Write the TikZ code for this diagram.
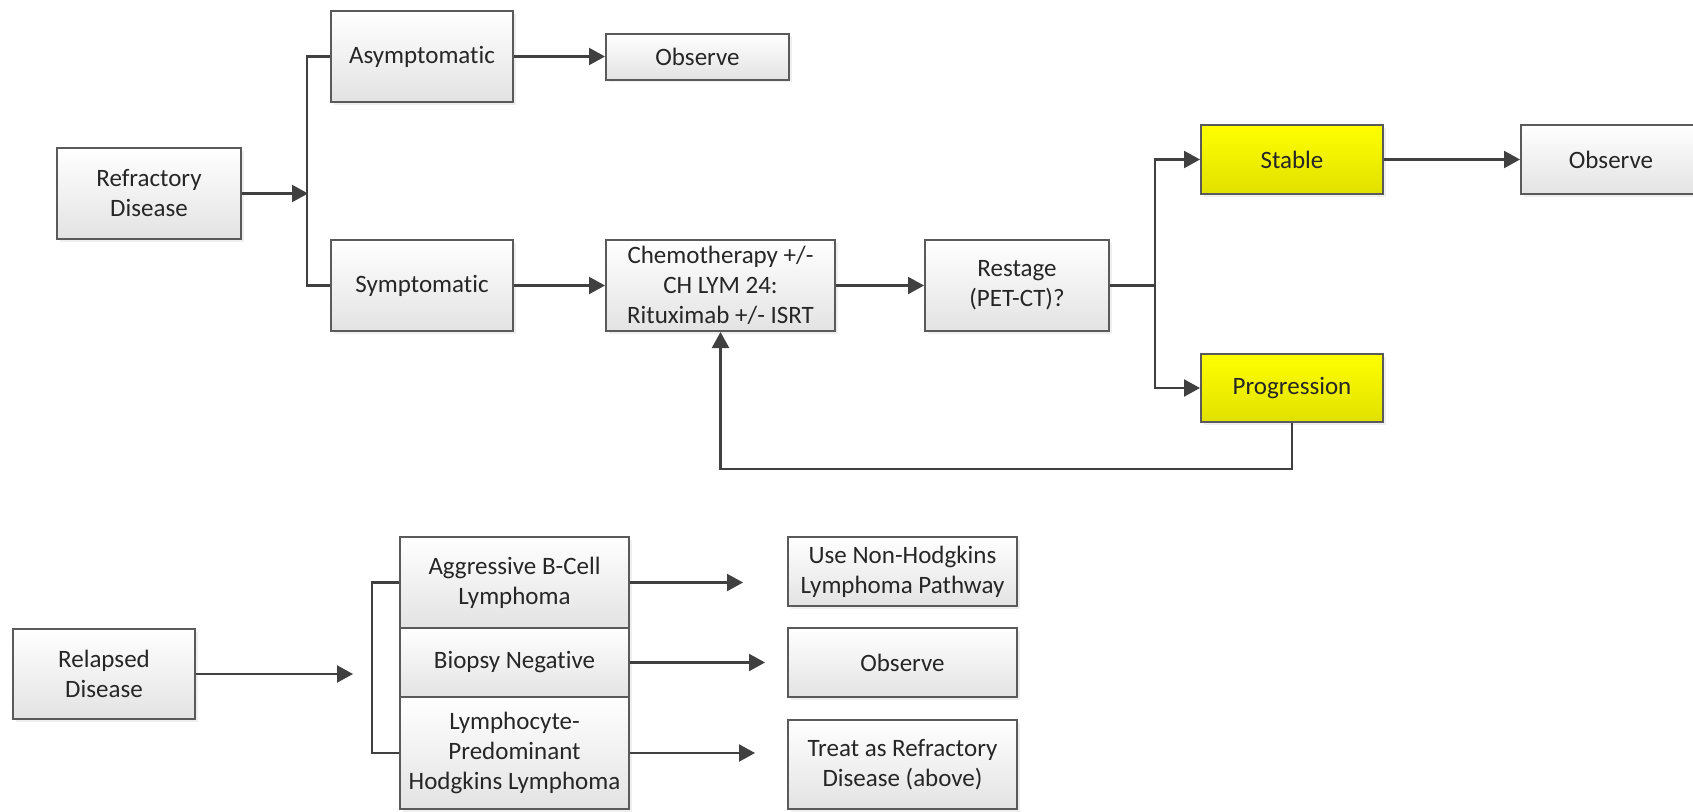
\documentclass[tikz,border=0pt]{standalone}
\usepackage{fontspec}
\setmainfont{Carlito}[Ligatures=NoCommon]
\usetikzlibrary{arrows.meta,shadows}
\definecolor{linec}{HTML}{404040}
\definecolor{boxline}{HTML}{5A5A5A}
\definecolor{txt}{HTML}{262626}
\begin{document}
\begin{tikzpicture}[x=1pt,y=-1pt,
  sz/.style 2 args={minimum width=#1pt, minimum height=#2pt},
  box/.style={draw=boxline, line width=2pt, top color=white, bottom color=black!11,
    drop shadow={shadow xshift=2.5pt, shadow yshift=-2.5pt, fill=black!12},
    inner sep=0pt, align=center, text=txt, font=\fontsize{25}{30}\selectfont},
  ybox/.style={box, top color=yellow, bottom color=yellow!88!black},
  conn/.style={draw=linec, line width=2.2pt},
  arr/.style={conn, -{Triangle[length=16pt,width=17pt]}}]
\useasboundingbox (0,0) rectangle (1693,811);
\clip (0,0) rectangle (1693,811);
\fill[white] (0,0) rectangle (1693,811);

% upper pathway
\node[box,sz={184}{91}] (ref) at (149,193.5) {Refractory\\Disease};
\node[box,sz={182}{91}] (asym) at (422,56.5) {Asymptomatic};
\node[box,sz={183}{46}] (obs1) at (697.5,56.5) {Observe};
\node[box,sz={182}{91}] (sym) at (422,285.5) {Symptomatic};
\node[box,sz={229}{91}] (chemo) at (720.5,285.5) {Chemotherapy +/-\\CH LYM 24:\\Rituximab +/- ISRT};
\node[box,sz={184}{91}] (restage) at (1017,285.5) {Restage\\(PET-CT)?};
\node[ybox,sz={182}{69}] (stable) at (1292,159.5) {Stable};
\node[box,sz={180}{69}] (obs2) at (1611,159.5) {Observe};
\node[ybox,sz={182}{68}] (prog) at (1292,388) {Progression};

\coordinate (j1) at (308,193.5);
\coordinate (j2) at (1155,285.5);
\draw[arr] (ref.east) -- (j1);
\draw[conn] (asym.west) -- ++(-23,0) |- (sym.west);
\draw[arr] (asym.east) -- (obs1.west);
\draw[arr] (sym.east) -- (chemo.west);
\draw[arr] (chemo.east) -- (restage.west);
\draw[conn] (restage.east) -- (j2);
\draw[arr] (j2) |- (stable.west);
\draw[arr] (j2) |- (prog.west);
\draw[arr] (stable.east) -- (obs2.west);
\draw[arr] (prog.south) -- ++(0,46) -| (chemo.south);

% lower pathway
\node[box,sz={182}{90}] (rel) at (104,674) {Relapsed\\Disease};
\node[box,sz={229}{91}] (agg) at (514.5,582.5) {Aggressive B-Cell\\Lymphoma};
\node[box,sz={229}{69}] (bio) at (514.5,662.5) {Biopsy Negative};
\node[box,sz={229}{112}] (lym) at (514.5,753) {Lymphocyte-\\Predominant\\Hodgkins Lymphoma};
\node[box,sz={229}{69}] (nhl) at (902.5,571.5) {Use Non-Hodgkins\\Lymphoma Pathway};
\node[box,sz={229}{69}] (obs3) at (902.5,662.5) {Observe};
\node[box,sz={229}{89}] (treat) at (902.5,764.5) {Treat as Refractory\\Disease (above)};

\coordinate (t0) at (353,674);
\coordinate (t1) at (743,582.5);
\coordinate (t2) at (765,662.5);
\coordinate (t3) at (755,753);
\draw[arr] (rel.east) -- (t0);
\draw[conn] (agg.west) -- ++(-27,0) |- (lym.west);
\draw[arr] (agg.east) -- (t1);
\draw[arr] (bio.east) -- (t2);
\draw[arr] (lym.east) -- (t3);
\end{tikzpicture}
\end{document}
